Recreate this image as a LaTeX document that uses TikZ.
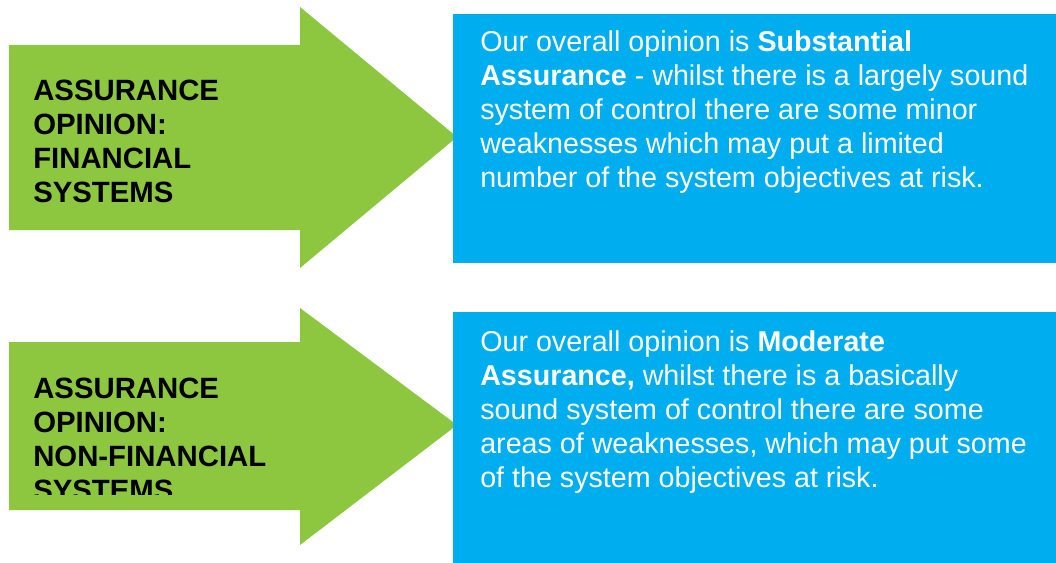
\documentclass[tikz,border=0pt]{standalone}
\usepackage{fontspec}
\setmainfont{Liberation Sans}
\usepackage{xcolor}
\usepackage{tikz}
\usetikzlibrary{positioning}
\definecolor{arrowgreen}{HTML}{8DC63F}
\definecolor{boxblue}{HTML}{00AEEF}
\tikzset{
	greentext/.style={anchor=north west,inner sep=0pt,align=left,text=black,
		font=\fontsize{22pt}{25.5pt}\selectfont\bfseries},
	bluetext/.style={anchor=north west,inner sep=0pt,align=left,text=white,
		font=\fontsize{21.5pt}{25.5pt}\selectfont},
}

\begin{document}
\begin{tikzpicture}[x=0.75pt,y=-0.75pt]
		\useasboundingbox (0,0) rectangle (1056,563);
		\fill[arrowgreen] (9,45) -- (300,45) -- (300,7) -- (457,137) -- (300,268) -- (300,230) -- (9,230) -- cycle;
		\fill[arrowgreen] (9,342) -- (300,342) -- (300,308) -- (457,425) -- (300,545) -- (300,510) -- (9,510) -- cycle;
		\fill[boxblue] (453,14) rectangle (1056,263);
		\fill[boxblue] (453,312) rectangle (1056,563);
		\node[greentext] (finsys) at (33,80) {ASSURANCE\\OPINION:\\FINANCIAL\\SYSTEMS};
		\begin{scope}
			\clip (0,300) rectangle (460,494);
			\node[greentext] (nonfinsys) at (33,378) {ASSURANCE\\OPINION:\\NON-FINANCIAL\\SYSTEMS};
		\end{scope}
		\node[bluetext] (substantial) at (480,30) {Our overall opinion is \textbf{Substantial}\\\textbf{Assurance} - whilst there is a largely sound\\system of control there are some minor\\weaknesses which may put a limited\\number of the system objectives at risk.};
		\node[bluetext] (moderate) at (480,330) {Our overall opinion is \textbf{Moderate}\\\textbf{Assurance,} whilst there is a basically\\sound system of control there are some\\areas of weaknesses, which may put some\\of the system objectives at risk.};
	\end{tikzpicture}
\end{document}
